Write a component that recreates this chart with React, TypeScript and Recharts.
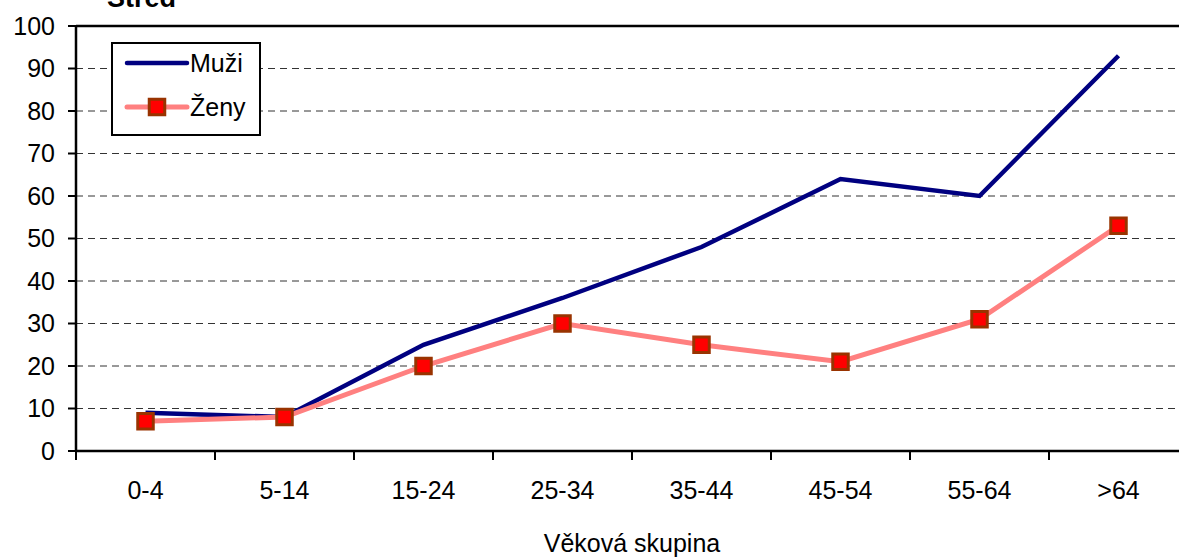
import React from "react";
import {
  CartesianGrid,
  Line,
  LineChart,
  ReferenceLine,
  XAxis,
  YAxis,
} from "recharts";

const CATEGORIES = ["0-4", "5-14", "15-24", "25-34", "35-44", "45-54", "55-64", ">64"];
const MUZI = [9, 8, 25, 36, 48, 64, 60, 93];
const ZENY = [7, 8, 20, 30, 25, 21, 31, 53];
const Y_TICKS = [0, 10, 20, 30, 40, 50, 60, 70, 80, 90, 100];

const TITLE = "Střed";
const X_LABEL = "Věková skupina";
const SERIES_MUZI = "Muži";
const SERIES_ZENY = "Ženy";

const FONT = '"Liberation Sans", Arial, sans-serif';
const CHART_W = 1200;
const CHART_H = 557;
const Y_AXIS_W = 76;
const MARGIN_RIGHT = 12;
const BAND = (CHART_W - Y_AXIS_W - MARGIN_RIGHT) / CATEGORIES.length;

const data = CATEGORIES.map((group, i) => ({
  group,
  muzi: MUZI[i],
  zeny: ZENY[i],
}));

function XTick(props: any) {
  const { x, y, payload } = props;
  return (
    <g>
      <line x1={x - BAND / 2} x2={x - BAND / 2} y1={y} y2={y + 9} stroke="#000" strokeWidth={2} />
      <text x={x} y={y + 48} textAnchor="middle" fill="#000" fontSize={25} fontFamily={FONT}>
        {payload.value}
      </text>
    </g>
  );
}

function SquareDot(props: any) {
  const { cx, cy } = props;
  if (cx == null || cy == null) return null;
  return (
    <rect x={cx - 7.75} y={cy - 7.75} width={15.5} height={15.5} fill="#FF0000" stroke="#993300" strokeWidth={3} />
  );
}

export default function App() {
  return (
    <div
      style={{
        position: "absolute",
        left: 0,
        top: 0,
        width: 1179,
        height: 557,
        overflow: "hidden",
        background: "#fff",
        fontFamily: FONT,
      }}
    >
      <LineChart
        width={CHART_W}
        height={CHART_H}
        data={data}
        margin={{ top: 26, right: MARGIN_RIGHT, left: 0, bottom: 0 }}
      >
        <CartesianGrid vertical={false} stroke="#333" strokeDasharray="7 5" />
        <XAxis
          dataKey="group"
          height={106}
          padding={{ left: BAND / 2, right: BAND / 2 }}
          tickLine={false}
          tickSize={0}
          tickMargin={0}
          axisLine={{ stroke: "#000", strokeWidth: 2.5 }}
          tick={<XTick />}
          interval={0}
          label={{
            value: X_LABEL,
            position: "insideBottom",
            offset: 5,
            fill: "#000",
            fontSize: 25,
            fontFamily: FONT,
          }}
        />
        <YAxis
          width={Y_AXIS_W}
          domain={[0, 100]}
          ticks={Y_TICKS}
          interval={0}
          tickSize={8}
          tickMargin={13}
          axisLine={{ stroke: "#000", strokeWidth: 2.5 }}
          tickLine={{ stroke: "#000", strokeWidth: 2 }}
          tick={{ fill: "#000", fontSize: 25, fontFamily: FONT }}
        />
        <ReferenceLine y={100} stroke="#000" strokeWidth={2.5} />
        <Line
          dataKey="muzi"
          name={SERIES_MUZI}
          stroke="#000080"
          strokeWidth={4.5}
          dot={false}
          isAnimationActive={false}
        />
        <Line
          dataKey="zeny"
          name={SERIES_ZENY}
          stroke="#FF8080"
          strokeWidth={5}
          dot={<SquareDot />}
          isAnimationActive={false}
        />
      </LineChart>

      <div
        style={{
          position: "absolute",
          left: 107,
          top: -15,
          fontSize: 27,
          fontWeight: "bold",
          lineHeight: "27px",
          color: "#000",
        }}
      >
        {TITLE}
      </div>

      <div
        style={{
          position: "absolute",
          left: 111,
          top: 42,
          width: 150,
          height: 94,
          boxSizing: "border-box",
          border: "2px solid #000",
          background: "#fff",
        }}
      >
        <svg width={146} height={90} style={{ position: "absolute", left: 0, top: 0 }}>
          <line x1={14} x2={74} y1={19} y2={19} stroke="#000080" strokeWidth={4.5} strokeLinecap="round" />
          <line x1={14} x2={74} y1={63} y2={63} stroke="#FF8080" strokeWidth={5} strokeLinecap="round" />
          <rect x={36.25} y={55.25} width={15.5} height={15.5} fill="#FF0000" stroke="#993300" strokeWidth={3} />
          <text x={77} y={28} fontSize={25} fontFamily={FONT} fill="#000">{SERIES_MUZI}</text>
          <text x={77} y={72} fontSize={25} fontFamily={FONT} fill="#000">{SERIES_ZENY}</text>
        </svg>
      </div>
    </div>
  );
}
